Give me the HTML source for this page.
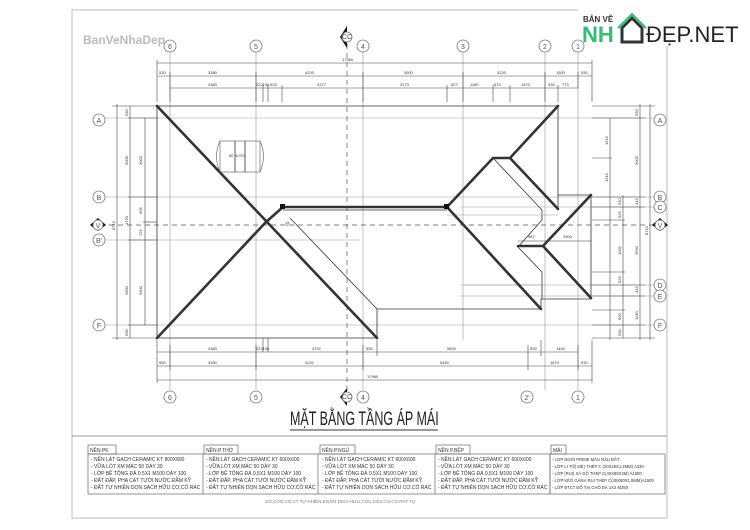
<!DOCTYPE html>
<html><head><meta charset="utf-8"><style>
html,body{margin:0;padding:0;background:#fff;}
svg{display:block;font-family:"Liberation Sans",sans-serif;}
.g{stroke:#999;stroke-width:0.6;fill:none}
.d{stroke:#444;stroke-width:0.6;fill:none}
.t{stroke:#333;stroke-width:2.6;fill:none;stroke-linecap:round}
.n{stroke:#333;stroke-width:0.8;fill:none}
.s{font-size:4px;fill:#333}
.c{fill:#fff;stroke:#777;stroke-width:0.8}
.ct{font-size:7px;fill:#555;text-anchor:middle}
.tb{font-size:5px;fill:#333}
</style></head><body>
<svg width="750" height="530" viewBox="0 0 750 530">
<rect width="750" height="530" fill="#fff"/>
<!-- frame -->
<path d="M72 10 H667 V518 H72 Z" stroke="#bbb" stroke-width="1" fill="none"/>
<line x1="72" y1="436" x2="667" y2="436" stroke="#999" stroke-width="1"/>
<!-- watermark -->
<text x="83" y="44" font-size="12" font-weight="bold" fill="#bbb">BanVeNhaDep</text>
<!-- logo -->
<rect x="578" y="0" width="172" height="46" fill="#fff"/>
<text x="583" y="22" font-size="8" font-weight="bold" fill="#333">BẢN VẼ</text>
<text x="582" y="42" font-size="22" font-weight="bold" fill="#2fbf71">NH</text>
<path d="M622 42 V28 L632 18 L642 28 V42 Z" fill="none" stroke="#333" stroke-width="3"/>
<path d="M618 28 L632 14 L646 28" fill="none" stroke="#2fbf71" stroke-width="2"/>
<text x="646" y="42" font-size="22" fill="#222">ĐẸP.NET</text>

<!-- grid lines -->
<g class="g">
<line x1="170" y1="50" x2="170" y2="390"/><line x1="256" y1="50" x2="256" y2="390"/>
<line x1="363" y1="50" x2="363" y2="390"/><line x1="463" y1="50" x2="463" y2="340"/>
<line x1="545" y1="50" x2="545" y2="390"/><line x1="578" y1="50" x2="578" y2="390"/>
<line x1="105" y1="118" x2="655" y2="118"/><line x1="105" y1="197" x2="655" y2="197"/>
<line x1="105" y1="240" x2="360" y2="240"/><line x1="105" y1="325" x2="655" y2="325"/>
<line x1="460" y1="207" x2="655" y2="207"/><line x1="460" y1="285" x2="655" y2="285"/><line x1="460" y1="296" x2="655" y2="296"/>
</g>
<line x1="347" y1="35" x2="347" y2="395" stroke="#555" stroke-width="0.7" stroke-dasharray="5,4"/>
<line x1="100" y1="225" x2="660" y2="225" stroke="#555" stroke-width="0.7" stroke-dasharray="5,4"/>

<!-- top dims -->
<g class="d">
<line x1="157" y1="63" x2="592" y2="63"/><line x1="157" y1="76" x2="592" y2="76"/><line x1="170" y1="88" x2="578" y2="88"/>
<line x1="157" y1="60" x2="157" y2="102"/><line x1="170" y1="72" x2="170" y2="102"/><line x1="256" y1="72" x2="256" y2="102"/>
<line x1="363" y1="72" x2="363" y2="102"/><line x1="463" y1="72" x2="463" y2="102"/><line x1="545" y1="72" x2="545" y2="102"/>
<line x1="578" y1="72" x2="578" y2="88"/><line x1="592" y1="60" x2="592" y2="102"/>
<line x1="263" y1="85" x2="263" y2="102"/><line x1="268" y1="85" x2="268" y2="102"/><line x1="282" y1="85" x2="282" y2="102"/>
<line x1="447" y1="85" x2="447" y2="102"/><line x1="493" y1="85" x2="493" y2="102"/><line x1="510" y1="85" x2="510" y2="102"/><line x1="558" y1="85" x2="558" y2="102"/>
</g>
<g class="s">
<text x="342" y="61">17980</text><text x="159" y="74">530</text><text x="208" y="74">3380</text><text x="305" y="74">4220</text>
<text x="404" y="74">3900</text><text x="497" y="74">3220</text><text x="556" y="74">1500</text><text x="581" y="74">530</text>
<text x="208" y="86">3380</text><text x="256" y="86">222196</text><text x="270" y="86">525</text><text x="317" y="86">3177</text>
<text x="400" y="86">3273</text><text x="451" y="86">627</text><text x="470" y="86">1180</text><text x="494" y="86">670</text><text x="521" y="86">1570</text><text x="548" y="86">530</text><text x="562" y="86">770</text>
</g>
<!-- bottom dims -->
<g class="d">
<line x1="157" y1="352" x2="578" y2="352"/><line x1="157" y1="366" x2="592" y2="366"/><line x1="157" y1="380" x2="592" y2="380"/>
<line x1="157" y1="340" x2="157" y2="383"/><line x1="170" y1="345" x2="170" y2="370"/><line x1="256" y1="345" x2="256" y2="370"/>
<line x1="363" y1="345" x2="363" y2="370"/><line x1="377" y1="340" x2="377" y2="356"/><line x1="528" y1="345" x2="528" y2="370"/>
<line x1="541" y1="340" x2="541" y2="356"/><line x1="578" y1="345" x2="578" y2="370"/><line x1="592" y1="340" x2="592" y2="383"/>
<line x1="263" y1="338" x2="263" y2="352"/><line x1="268" y1="338" x2="268" y2="352"/>
</g>
<g class="s">
<text x="208" y="350">3380</text><text x="256" y="350">222196</text><text x="312" y="350">3702</text><text x="366" y="350">530</text>
<text x="447" y="350">5800</text><text x="530" y="350">530</text><text x="556" y="350">1440</text>
<text x="159" y="364">530</text><text x="208" y="364">3380</text><text x="305" y="364">4220</text><text x="440" y="364">6450</text><text x="550" y="364">1670</text><text x="581" y="364">530</text>
<text x="367" y="378">17980</text>
</g>
<!-- left dims -->
<g class="d">
<line x1="117" y1="104" x2="117" y2="340"/><line x1="130" y1="106" x2="130" y2="338"/><line x1="145" y1="118" x2="145" y2="325"/>
<line x1="112" y1="106" x2="157" y2="106"/><line x1="112" y1="338" x2="157" y2="338"/>
<line x1="128" y1="118" x2="157" y2="118"/><line x1="128" y1="197" x2="157" y2="197"/><line x1="128" y1="240" x2="157" y2="240"/><line x1="128" y1="325" x2="157" y2="325"/><line x1="143" y1="222" x2="157" y2="222"/>
</g>
<g class="s">
<text transform="translate(128,116) rotate(-90)">530</text><text transform="translate(128,165) rotate(-90)">3000</text><text transform="translate(142,165) rotate(-90)">3000</text>
<text transform="translate(128,225) rotate(-90)">1720</text><text transform="translate(142,214) rotate(-90)">905</text><text transform="translate(142,236) rotate(-90)">725</text>
<text transform="translate(115,230) rotate(-90)">8710</text>
<text transform="translate(128,295) rotate(-90)">3300</text><text transform="translate(142,295) rotate(-90)">3300</text><text transform="translate(128,336) rotate(-90)">530</text>
</g>
<!-- right dims -->
<g class="d">
<line x1="610" y1="118" x2="610" y2="340"/><line x1="623" y1="195" x2="623" y2="338"/><line x1="640" y1="104" x2="640" y2="340"/><line x1="650" y1="104" x2="650" y2="340"/>
<line x1="592" y1="106" x2="655" y2="106"/><line x1="592" y1="338" x2="655" y2="338"/>
<line x1="592" y1="118" x2="645" y2="118"/><line x1="592" y1="158" x2="612" y2="158"/><line x1="592" y1="197" x2="645" y2="197"/><line x1="592" y1="207" x2="645" y2="207"/>
<line x1="592" y1="220" x2="625" y2="220"/><line x1="592" y1="272" x2="625" y2="272"/><line x1="592" y1="285" x2="645" y2="285"/><line x1="592" y1="296" x2="645" y2="296"/>
<line x1="592" y1="310" x2="625" y2="310"/><line x1="592" y1="325" x2="645" y2="325"/>
</g>
<g class="s">
<text transform="translate(638,116) rotate(-90)">530</text><text transform="translate(608,145) rotate(-90)">1515</text><text transform="translate(608,182) rotate(-90)">1515</text>
<text transform="translate(638,165) rotate(-90)">3000</text><text transform="translate(621,205) rotate(-90)">530</text><text transform="translate(638,205) rotate(-90)">415</text>
<text transform="translate(621,218) rotate(-90)">526</text><text transform="translate(621,255) rotate(-90)">1002</text><text transform="translate(638,255) rotate(-90)">3560</text>
<text transform="translate(621,283) rotate(-90)">526</text><text transform="translate(638,293) rotate(-90)">415</text><text transform="translate(621,320) rotate(-90)">600</text>
<text transform="translate(638,320) rotate(-90)">1130</text><text transform="translate(648,235) rotate(-90)">8710</text><text transform="translate(621,336) rotate(-90)">530</text>
</g>

<!-- roof outline -->
<g class="n">
<path d="M157 106 H558 V209 M157 106 V338 H377 V309 H541 V299 H591 V195 H558"/>
<line x1="290" y1="218" x2="377" y2="309"/>
<path d="M493 158 L542 210 V220 L518 247 L542 272 V299"/>
<line x1="283" y1="210" x2="447" y2="210"/>
<line x1="518" y1="241" x2="591" y2="241" stroke-width="0.5"/>
<line x1="447" y1="215" x2="558" y2="215" stroke="#999" stroke-width="0.5"/>
<line x1="464" y1="285" x2="541" y2="285" stroke="#999" stroke-width="0.5"/>
</g>
<g class="t">
<line x1="157" y1="106" x2="377" y2="338"/>
<line x1="157" y1="338" x2="266" y2="222"/>
<line x1="266" y1="222" x2="283" y2="207"/>
<line x1="283" y1="207" x2="447" y2="207"/>
<path d="M447 207 L493 158 H510 L558 106"/>
<line x1="510" y1="158" x2="558" y2="209"/>
<line x1="447" y1="207" x2="541" y2="309"/>
<path d="M518 246 H543 L591 195 M543 246 L591 298"/>
</g>
<rect x="280" y="204" width="5" height="5" fill="#111"/><rect x="444" y="204" width="5" height="5" fill="#111"/>
<text x="284" y="224" class="s" transform="rotate(-45 288 222)">25</text>
<text x="528" y="238" class="s">987</text><text x="563" y="238" class="s">1900</text>
<!-- water tank -->
<g stroke="#555" stroke-width="0.6" fill="none">
<rect x="220" y="141" width="40" height="31"/>
<path d="M220 141 Q213 156 220 172 M260 141 Q267 156 260 172"/>
<line x1="235" y1="141" x2="235" y2="172" stroke-width="1"/><line x1="245" y1="141" x2="245" y2="172" stroke-width="1"/>
</g>
<text x="229" y="157" font-size="3.5" fill="#444">BỂ NƯỚC</text>

<!-- axis circles -->
<g>
<circle class="c" cx="170" cy="46" r="6"/><text class="ct" x="170" y="49">6</text>
<circle class="c" cx="256" cy="46" r="6"/><text class="ct" x="256" y="49">5</text>
<circle class="c" cx="363" cy="46" r="6"/><text class="ct" x="363" y="49">4</text>
<circle class="c" cx="463" cy="46" r="6"/><text class="ct" x="463" y="49">3</text>
<circle class="c" cx="545" cy="46" r="6"/><text class="ct" x="545" y="49">2</text>
<circle class="c" cx="578" cy="46" r="6"/><text class="ct" x="578" y="49">1</text>
<circle class="c" cx="170" cy="397" r="6"/><text class="ct" x="170" y="400">6</text>
<circle class="c" cx="256" cy="397" r="6"/><text class="ct" x="256" y="400">5</text>
<circle class="c" cx="363" cy="397" r="6"/><text class="ct" x="363" y="400">4</text>
<circle class="c" cx="527" cy="397" r="6"/><text class="ct" x="527" y="400">2'</text>
<circle class="c" cx="578" cy="397" r="6"/><text class="ct" x="578" y="400">1</text>
<circle class="c" cx="99" cy="120" r="6"/><text class="ct" x="99" y="123">A</text>
<circle class="c" cx="99" cy="197" r="6"/><text class="ct" x="99" y="200">B</text>
<circle class="c" cx="99" cy="240" r="6"/><text class="ct" x="99" y="243">B'</text>
<circle class="c" cx="99" cy="325" r="6"/><text class="ct" x="99" y="328">F</text>
<circle class="c" cx="660" cy="120" r="6"/><text class="ct" x="660" y="123">A</text>
<circle class="c" cx="660" cy="197" r="6"/><text class="ct" x="660" y="200">B</text>
<circle class="c" cx="660" cy="207" r="6"/><text class="ct" x="660" y="210">C</text>
<circle class="c" cx="660" cy="285" r="6"/><text class="ct" x="660" y="288">D</text>
<circle class="c" cx="660" cy="296" r="6"/><text class="ct" x="660" y="299">E</text>
<circle class="c" cx="660" cy="325" r="6"/><text class="ct" x="660" y="328">F</text>
</g>
<!-- section markers -->
<path d="M90 225 L98 218 L106 225 L98 231 Z" fill="#111"/><circle class="c" cx="98" cy="225" r="5"/><text class="ct" x="98" y="228" font-size="6">V</text>
<path d="M668 225 L660 218 L652 225 L660 231 Z" fill="#111"/><circle class="c" cx="660" cy="225" r="5"/><text class="ct" x="660" y="228" font-size="6">V</text>
<path d="M347 26 L340 37 L347 48 Z" fill="#111"/><circle class="c" cx="347" cy="37" r="5"/><text class="ct" x="347" y="39" font-size="4">CC</text>
<path d="M347 388 L340 397 L347 406 Z" fill="#111"/><circle class="c" cx="347" cy="397" r="5"/><text class="ct" x="347" y="399" font-size="4">CC</text>

<!-- title -->
<text x="290" y="425" font-size="19" fill="#222" transform="scale(0.85,1)" transform-origin="290 425" textLength="175" lengthAdjust="spacingAndGlyphs">MẶT BẰNG TẦNG ÁP MÁI</text>
<line x1="290" y1="430" x2="438" y2="430" stroke="#333" stroke-width="1"/>

<!-- table -->
<g stroke="#666" stroke-width="0.7" fill="none">
<rect x="88" y="454" width="462" height="40"/><rect x="550" y="454" width="115" height="40"/>
<line x1="203" y1="454" x2="203" y2="494"/><line x1="318" y1="454" x2="318" y2="494"/><line x1="435" y1="454" x2="435" y2="494"/>
<rect x="88" y="445" width="28" height="9"/><rect x="204" y="445" width="34" height="9"/><rect x="320" y="445" width="35" height="9"/><rect x="436" y="445" width="34" height="9"/><rect x="551" y="445" width="15" height="9"/>
</g>
<g class="tb">
<text x="90" y="452">NỀN PK</text><text x="206" y="452">NỀN P.THỜ</text><text x="322" y="452">NỀN P.NGỦ</text><text x="438" y="452">NỀN P.BẾP</text><text x="553" y="452">MÁI</text>
</g>
<g class="tb" font-size="4.6">
<text x="91" y="461">- NỀN LÁT GẠCH CERAMIC KT 800X800</text><text x="91" y="468">- VỮA LÓT XM MÁC 50 DÀY 30</text><text x="91" y="475">- LỚP BÊ TÔNG ĐÁ 0.5X1 M100 DÀY 100</text><text x="91" y="482">- ĐẤT ĐẮP, PHA CÁT TƯỚI NƯỚC ĐẦM KỸ</text><text x="91" y="489">- ĐẤT TỰ NHIÊN DỌN SẠCH HỮU CƠ,CỎ RÁC</text>
<text x="206" y="461">- NỀN LÁT GẠCH CERAMIC KT 600X600</text><text x="206" y="468">- VỮA LÓT XM MÁC 50 DÀY 30</text><text x="206" y="475">- LỚP BÊ TÔNG ĐÁ 0.5X1 M100 DÀY 100</text><text x="206" y="482">- ĐẤT ĐẮP, PHA CÁT TƯỚI NƯỚC ĐẦM KỸ</text><text x="206" y="489">- ĐẤT TỰ NHIÊN DỌN SẠCH HỮU CƠ,CỎ RÁC</text>
<text x="322" y="461">- NỀN LÁT GẠCH CERAMIC KT 600X600</text><text x="322" y="468">- VỮA LÓT XM MÁC 50 DÀY 30</text><text x="322" y="475">- LỚP BÊ TÔNG ĐÁ 0.5X1 M100 DÀY 100</text><text x="322" y="482">- ĐẤT ĐẮP, PHA CÁT TƯỚI NƯỚC ĐẦM KỸ</text><text x="322" y="489">- ĐẤT TỰ NHIÊN DỌN SẠCH HỮU CƠ,CỎ RÁC</text>
<text x="438" y="461">- NỀN LÁT GẠCH CERAMIC KT 600X600</text><text x="438" y="468">- VỮA LÓT XM MÁC 50 DÀY 30</text><text x="438" y="475">- LỚP BÊ TÔNG ĐÁ 0.5X1 M100 DÀY 100</text><text x="438" y="482">- ĐẤT ĐẮP, PHA CÁT TƯỚI NƯỚC ĐẦM KỸ</text><text x="438" y="489">- ĐẤT TỰ NHIÊN DỌN SẠCH HỮU CƠ,CỎ RÁC</text>
<text x="552" y="461" font-size="4.2">- LỢP NGÓI PRIME MÀU NÂU ĐẤT</text><text x="552" y="468" font-size="4.2">- LỚP LI TÔ( MÈ) THÉP C (20X26X1.2MM) A330</text><text x="552" y="475" font-size="4.2">- LỚP (RUI) XÀ GỒ THÉP C(40X80X2M) A1000</text><text x="552" y="482" font-size="4.2">- LỚP KÈO GÁNH RUI THÉP C(40X80X1.8MM)A1500</text><text x="552" y="489" font-size="4.2">- LỚP BTCT ĐỔ TẠI CHỖ ĐÁ 1X2 M250</text>
</g>
<text x="265" y="503" font-size="4.5" fill="#777">CÓ,CỎO,CO,CT TỰ NHIÊN EN EN DICH HỮU,CỎU,CỎ3,CO,CO RAT TỰ</text>
</svg>
</body></html>
